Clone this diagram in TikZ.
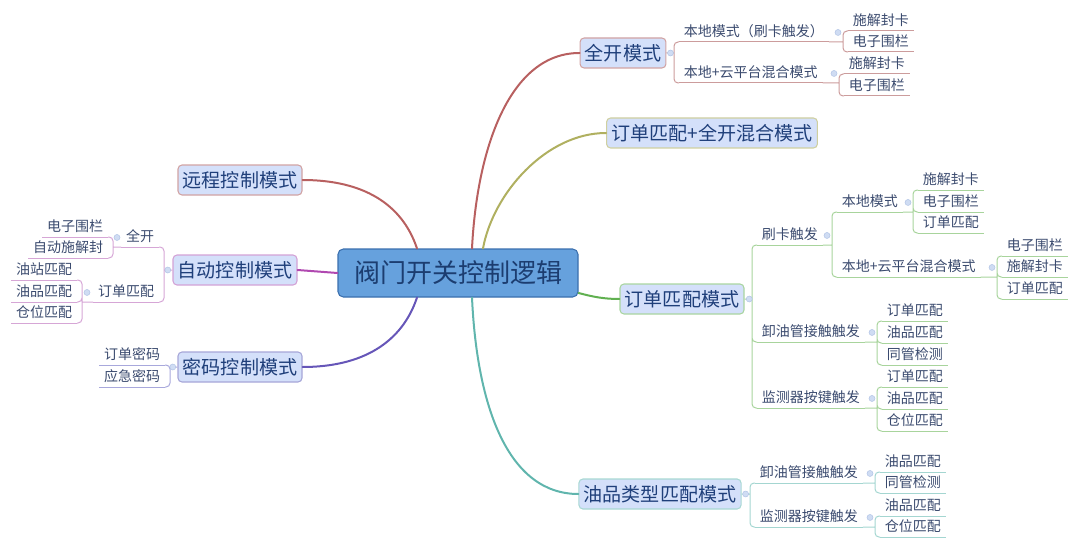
\documentclass[tikz,border=0pt]{standalone}
\usepackage{fontspec}
\setmainfont{Noto Sans CJK SC}
\usepackage{xcolor}
\usepackage{tikz}
\usetikzlibrary{positioning,calc}
\definecolor{rootfill}{HTML}{66A1DD}
\definecolor{rootdraw}{HTML}{3A6FAE}
\definecolor{roottext}{HTML}{1C3D70}
\definecolor{topicfill}{HTML}{D4E0FA}
\definecolor{topictext}{HTML}{1F3F7A}
\definecolor{leaftext}{HTML}{3A4A6E}
\definecolor{dotfill}{HTML}{CFDCF3}
\definecolor{dotdraw}{HTML}{B4C6E6}
% borders of the first level
\definecolor{redb}{HTML}{D1A3A3}
\definecolor{oliveb}{HTML}{CFD0A0}
\definecolor{greenb}{HTML}{A9D5A0}
\definecolor{tealb}{HTML}{A8D8D3}
\definecolor{magb}{HTML}{D3A2D6}
\definecolor{purb}{HTML}{A6A6D8}
% main branches
\definecolor{redc}{HTML}{B86060}
\definecolor{olivec}{HTML}{B0B060}
\definecolor{greenc}{HTML}{60B050}
\definecolor{tealc}{HTML}{60B5AD}
\definecolor{magc}{HTML}{B048B0}
\definecolor{purc}{HTML}{6656B8}
% sub lines
\definecolor{redl}{HTML}{CC9C9C}
\definecolor{greenl}{HTML}{A8D49C}
\definecolor{teall}{HTML}{A4D6D1}
\definecolor{magl}{HTML}{D6A6D6}
\definecolor{purl}{HTML}{A8A8DC}
\tikzset{
  mm root/.style={
    rectangle,
    rounded corners=4pt,
    draw=rootdraw,
    line width=0.8pt,
    fill=rootfill,
    text=roottext,
    font=\fontsize{19.5}{22}\selectfont,
    minimum width=180pt,
    minimum height=36pt,
  },
  mm topic/.style={
    rectangle,
    rounded corners=3pt,
    draw=#1,
    line width=0.8pt,
    fill=topicfill,
    text=topictext,
    font=\fontsize{14.3}{16}\selectfont,
    minimum height=22.5pt,
    inner xsep=3.6pt,
  },
  mm leaf/.style={
    inner xsep=3.5pt,
    inner ysep=1.7pt,
    text height=8.5pt,
    text depth=2pt,
    text=leaftext,
    font=\fontsize{10.5}{12}\selectfont,
    append after command={(\tikzlastnode.south west) edge[draw=#1, line width=0.75pt] (\tikzlastnode.south east)},
  },
  mm dot/.style={circle, inner sep=0pt, minimum size=4.5pt, fill=dotfill, draw=dotdraw, line width=0.4pt},
  mm branch/.style={draw=#1, line width=1.5pt, line cap=round},
  mm line/.style={draw=#1, line width=0.75pt, rounded corners=3pt},
}
\begin{document}
\begin{tikzpicture}[x=0.75pt, y=-0.75pt]
  \useasboundingbox (0,0) rectangle (1080,549);
  % centre and first level
  \node[mm root] (root) at (458,273) {阀门开关控制逻辑};
  \node[mm topic=redb] (full) at (623,53) {全开模式};
  \node[mm topic=oliveb] (mixed) at (712,133) {订单匹配+全开混合模式};
  \node[mm topic=greenb] (order) at (682,299) {订单匹配模式};
  \node[mm topic=tealb] (oil) at (660,494) {油品类型匹配模式};
  \node[mm topic=redb] (remote) at (240,180) {远程控制模式};
  \node[mm topic=magb] (auto) at (235,270) {自动控制模式};
  \node[mm topic=purb] (pwd) at (240,367) {密码控制模式};
  \draw[mm branch=redc] ([xshift=10.5pt]root.north) .. controls +(5,-100) and +(-70,0) .. (full.west);
  \draw[mm branch=olivec] ([xshift=18.75pt]root.north) .. controls +(10,-55) and +(-60,0) .. (mixed.west);
  \draw[mm branch=greenc] ([yshift=-15pt]root.east) .. controls +(15,4) and +(-15,0) .. (order.west);
  \draw[mm branch=tealc] ([xshift=10.5pt]root.south) .. controls +(5,110) and +(-70,0) .. (oil.west);
  \draw[mm branch=redc] ([xshift=-30.75pt]root.north) .. controls +(-15,-45) and +(60,0) .. (remote.east);
  \draw[mm branch=magc] (root.west) -- (auto.east);
  \draw[mm branch=purc] ([xshift=-30.75pt]root.south) .. controls +(-15,45) and +(60,0) .. (pwd.east);

  % 全开模式
  \coordinate (q-full) at (674,53);
  \node[mm leaf=redl, anchor=south west] (full-1) at (679,42) {本地模式（刷卡触发）};
  \coordinate (b-full-1) at (843,42);
  \node[mm leaf=redl, anchor=south west] (full-1a) at (848,31) {施解封卡};
  \node[mm leaf=redl, anchor=south west] (full-1b) at (848,52) {电子围栏};
  \node[mm leaf=redl, anchor=south west] (full-2) at (679,83) {本地+云平台混合模式};
  \coordinate (b-full-2) at (839,83);
  \node[mm leaf=redl, anchor=south west] (full-2a) at (844,74) {施解封卡};
  \node[mm leaf=redl, anchor=south west] (full-2b) at (844,96) {电子围栏};
  \draw[mm line=redl] (full.east) -- (q-full) (q-full) |- (full-1.south west) (q-full) |- (full-2.south west);
  \draw[mm line=redl] (full-1.south east) -- (b-full-1) (b-full-1) |- (full-1a.south west) (b-full-1) |- (full-1b.south west);
  \draw[mm line=redl] (full-2.south east) -- (b-full-2) (b-full-2) |- (full-2a.south west) (b-full-2) |- (full-2b.south west);

  % 订单匹配模式
  \coordinate (q-order) at (752,299);
  \node[mm leaf=greenl, anchor=south west] (order-1) at (757,245) {刷卡触发};
  \coordinate (b-order-1) at (832,245);
  \node[mm leaf=greenl, anchor=south west] (order-11) at (837,212) {本地模式};
  \coordinate (b-order-11) at (913,212);
  \node[mm leaf=greenl, anchor=south west] (order-11a) at (918,190) {施解封卡};
  \node[mm leaf=greenl, anchor=south west] (order-11b) at (918,212) {电子围栏};
  \node[mm leaf=greenl, anchor=south west] (order-11c) at (918,233) {订单匹配};
  \node[mm leaf=greenl, anchor=south west] (order-12) at (837,277) {本地+云平台混合模式};
  \coordinate (b-order-12) at (997,277);
  \node[mm leaf=greenl, anchor=south west] (order-12a) at (1002,256) {电子围栏};
  \node[mm leaf=greenl, anchor=south west] (order-12b) at (1002,277) {施解封卡};
  \node[mm leaf=greenl, anchor=south west] (order-12c) at (1002,299) {订单匹配};
  \node[mm leaf=greenl, anchor=south west] (order-2) at (757,342) {卸油管接触触发};
  \coordinate (b-order-2) at (877,342);
  \node[mm leaf=greenl, anchor=south west] (order-2a) at (882,321) {订单匹配};
  \node[mm leaf=greenl, anchor=south west] (order-2b) at (882,343) {油品匹配};
  \node[mm leaf=greenl, anchor=south west] (order-2c) at (882,365) {同管检测};
  \node[mm leaf=greenl, anchor=south west] (order-3) at (757,408) {监测器按键触发};
  \coordinate (b-order-3) at (877,408);
  \node[mm leaf=greenl, anchor=south west] (order-3a) at (882,387) {订单匹配};
  \node[mm leaf=greenl, anchor=south west] (order-3b) at (882,409) {油品匹配};
  \node[mm leaf=greenl, anchor=south west] (order-3c) at (882,431) {仓位匹配};
  \draw[mm line=greenl] (order.east) -- (q-order) (q-order) |- (order-1.south west) (q-order) |- (order-2.south west) (q-order) |- (order-3.south west);
  \draw[mm line=greenl] (order-1.south east) -- (b-order-1) (b-order-1) |- (order-11.south west) (b-order-1) |- (order-12.south west);
  \draw[mm line=greenl] (order-11.south east) -- (b-order-11) (b-order-11) |- (order-11a.south west) (b-order-11) |- (order-11b.south west) (b-order-11) |- (order-11c.south west);
  \draw[mm line=greenl] (order-12.south east) -- (b-order-12) (b-order-12) |- (order-12a.south west) (b-order-12) |- (order-12b.south west) (b-order-12) |- (order-12c.south west);
  \draw[mm line=greenl] (order-2.south east) -- (b-order-2) (b-order-2) |- (order-2a.south west) (b-order-2) |- (order-2b.south west) (b-order-2) |- (order-2c.south west);
  \draw[mm line=greenl] (order-3.south east) -- (b-order-3) (b-order-3) |- (order-3a.south west) (b-order-3) |- (order-3b.south west) (b-order-3) |- (order-3c.south west);

  % 油品类型匹配模式
  \coordinate (q-oil) at (750,494);
  \node[mm leaf=teall, anchor=south west] (oil-1) at (755,483) {卸油管接触触发};
  \coordinate (b-oil-1) at (875,483);
  \node[mm leaf=teall, anchor=south west] (oil-1a) at (880,472) {油品匹配};
  \node[mm leaf=teall, anchor=south west] (oil-1b) at (880,493) {同管检测};
  \node[mm leaf=teall, anchor=south west] (oil-2) at (755,527) {监测器按键触发};
  \coordinate (b-oil-2) at (875,527);
  \node[mm leaf=teall, anchor=south west] (oil-2a) at (880,516) {油品匹配};
  \node[mm leaf=teall, anchor=south west] (oil-2b) at (880,537) {仓位匹配};
  \draw[mm line=teall] (oil.east) -- (q-oil) (q-oil) |- (oil-1.south west) (q-oil) |- (oil-2.south west);
  \draw[mm line=teall] (oil-1.south east) -- (b-oil-1) (b-oil-1) |- (oil-1a.south west) (b-oil-1) |- (oil-1b.south west);
  \draw[mm line=teall] (oil-2.south east) -- (b-oil-2) (b-oil-2) |- (oil-2a.south west) (b-oil-2) |- (oil-2b.south west);

  % 自动控制模式
  \coordinate (q-auto) at (164,270);
  \node[mm leaf=magl, anchor=south east] (auto-1) at (159,247) {全开};
  \coordinate (b-auto-1) at (113,247);
  \node[mm leaf=magl, anchor=south east] (auto-1a) at (108,237) {电子围栏};
  \node[mm leaf=magl, anchor=south east] (auto-1b) at (108,258) {自动施解封};
  \node[mm leaf=magl, anchor=south east] (auto-2) at (159,302) {订单匹配};
  \coordinate (b-auto-2) at (82,302);
  \node[mm leaf=magl, anchor=south east] (auto-2a) at (77,280) {油站匹配};
  \node[mm leaf=magl, anchor=south east] (auto-2b) at (77,302) {油品匹配};
  \node[mm leaf=magl, anchor=south east] (auto-2c) at (77,323) {仓位匹配};
  \draw[mm line=magl] (auto.west) -- (q-auto) (q-auto) |- (auto-1.south east) (q-auto) |- (auto-2.south east);
  \draw[mm line=magl] (auto-1.south west) -- (b-auto-1) (b-auto-1) |- (auto-1a.south east) (b-auto-1) |- (auto-1b.south east);
  \draw[mm line=magl] (auto-2.south west) -- (b-auto-2) (b-auto-2) |- (auto-2a.south east) (b-auto-2) |- (auto-2b.south east) (b-auto-2) |- (auto-2c.south east);

  % 密码控制模式
  \coordinate (q-pwd) at (170,367);
  \node[mm leaf=purl, anchor=south east] (pwd-a) at (165,365) {订单密码};
  \node[mm leaf=purl, anchor=south east] (pwd-b) at (165,387) {应急密码};
  \draw[mm line=purl] (pwd.west) -- (q-pwd) (q-pwd) |- (pwd-a.south east) (q-pwd) |- (pwd-b.south east);

  % collapse dots
  \node[mm dot] (d-full) at ([xshift=3pt]full.east) {};
  \node[mm dot] (d-full-1) at ($(b-full-1 |- full-1.east)+(-5,0)$) {};
  \node[mm dot] (d-full-2) at ($(b-full-2 |- full-2.east)+(-5,0)$) {};
  \node[mm dot] (d-order) at ([xshift=3.5pt]order.east) {};
  \node[mm dot] (d-order-1) at ($(b-order-1 |- order-1.east)+(-5,0)$) {};
  \node[mm dot] (d-order-11) at ($(b-order-11 |- order-11.east)+(-5,0)$) {};
  \node[mm dot] (d-order-12) at ($(b-order-12 |- order-12.east)+(-5,0)$) {};
  \node[mm dot] (d-order-2) at ($(b-order-2 |- order-2.east)+(-5,0)$) {};
  \node[mm dot] (d-order-3) at ($(b-order-3 |- order-3.east)+(-5,0)$) {};
  \node[mm dot] (d-oil) at ([xshift=3pt]oil.east) {};
  \node[mm dot] (d-oil-1) at ($(b-oil-1 |- oil-1.east)+(-5,0)$) {};
  \node[mm dot] (d-oil-2) at ($(b-oil-2 |- oil-2.east)+(-5,0)$) {};
  \node[mm dot] (d-auto) at ([xshift=-3.5pt]auto.west) {};
  \node[mm dot] (d-auto-1) at ($(b-auto-1 |- auto-1.west)+(4,0)$) {};
  \node[mm dot] (d-auto-2) at ($(b-auto-2 |- auto-2.west)+(5,0)$) {};
  \node[mm dot] (d-pwd) at ([xshift=-3.5pt]pwd.west) {};
\end{tikzpicture}
\end{document}
